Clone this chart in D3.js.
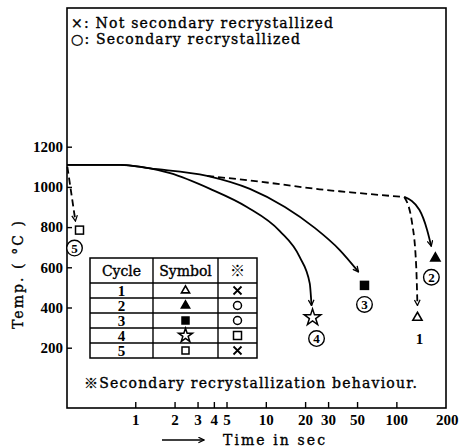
<!DOCTYPE html>
<html><head><meta charset="utf-8">
<script src="https://cdn.jsdelivr.net/npm/d3@7"></script>
<style>
html,body{margin:0;padding:0;background:#fff;}
svg{display:block;}
text{font-family:"DejaVu Serif","Liberation Serif",serif;fill:#000;}
.t{stroke:#000;stroke-width:0.35px;}
</style></head>
<body>
<svg id="c" width="459" height="447"></svg>
<script>
// ---- data ----
const cycles = [1, 2, 3, 4, 5];
const markerTimes = [145, 199, 57, 22.8, 0.374];     // sec
const markerTemps = [350, 645, 510, 350, 785];        // °C
const markerSymbols = ["triOpen", "triFill", "sqFill", "star", "sqOpen"];
const behaviour = ["×", "○", "○", "□", "×"];
const circledLabels = ["1", "2", "3", "4", "5"];
const yTicks = [200, 400, 600, 800, 1000, 1200];
const xTicks = [1, 2, 3, 4, 5, 10, 20, 30, 50, 100, 200];

// cooling paths [time (s), temp (°C)]
const pathCycle4 = [[0.3,1110],[0.77,1110],[1.3,1092],[1.85,1068],[3.74,990],[7.16,900],[12.8,780],[18.2,650],[21.7,520],[22.4,410]];
const pathCycle3 = [[0.3,1110],[0.77,1110],[1.3,1092],[3.55,1055],[7.55,990],[14,900],[23.7,796],[36.7,687],[51.3,577]];
const pathHold12 = [[3.55,1055],[10.7,1020],[25.8,988],[41.5,975],[74,960],[115,950]];
const pathCycle2 = [[115,950],[150,886],[172,786],[185,705]];
const pathCycle1 = [[115,950],[132,820],[142,600],[145,410]];
const pathCycle5 = [[0.302,1100],[0.348,830]];

const svg = d3.select("#c");
const x = d3.scaleLog().domain([0.3, 240]).range([67, 446]);
const y = d3.scaleLinear().domain([-100, 1890]).range([408, 8]);

// arrow marker
const defs = svg.append("defs");
defs.append("marker").attr("id","arr").attr("viewBox","0 0 10 10").attr("refX",9).attr("refY",5)
  .attr("markerWidth",7).attr("markerHeight",7).attr("orient","auto-start-reverse")
  .attr("markerUnits","userSpaceOnUse")
  .append("path").attr("d","M1,1 L9,5 L1,9").attr("fill","none").attr("stroke","#000").attr("stroke-width",1.8);

// frame
svg.append("rect").attr("x",x.range()[0]).attr("y",y.range()[1]).attr("width",x.range()[1]-x.range()[0])
  .attr("height",y.range()[0]-y.range()[1]).attr("fill","none").attr("stroke","#000").attr("stroke-width",1.6);

// axes
const ya = svg.append("g").attr("transform",`translate(${x.range()[0]},0)`)
  .call(d3.axisLeft(y).tickValues(yTicks).tickSize(-5).tickPadding(4).tickFormat(d3.format("d")));
ya.select(".domain").remove();
ya.selectAll("line").attr("stroke-width",1.4);
ya.selectAll("text").style("font-family","Liberation Serif").style("font-weight","bold").style("font-size","15px");

const xa = svg.append("g").attr("transform",`translate(0,${y.range()[0]})`)
  .call(d3.axisBottom(x).tickValues(xTicks).tickSize(-6).tickPadding(6).tickFormat(d3.format("d")));
xa.select(".domain").remove();
xa.selectAll("line").attr("stroke-width",1.4);
xa.selectAll(".tick").filter(d=>d===200).select("line").remove();
xa.selectAll(".tick").filter(d=>d===200).select("text").attr("dx",11);
xa.selectAll("text").style("font-family","Liberation Serif").style("font-weight","bold").style("font-size","15px");

// curves
const line = d3.line().x(d=>x(d[0])).y(d=>y(d[1])).curve(d3.curveMonotoneX);
function drawPath(data, dashed, arrow){
  const p = svg.append("path").attr("d", line(data)).attr("fill","none").attr("stroke","#000").attr("stroke-width",1.8);
  if (dashed) p.attr("stroke-dasharray","7,4");
  if (arrow) p.attr("marker-end","url(#arr)");
}
drawPath(pathCycle4,false,true);
drawPath(pathCycle3,false,true);
drawPath(pathHold12,true,false);
drawPath(pathCycle2,false,true);
drawPath(pathCycle1,true,true);
drawPath(pathCycle5,true,true);

// symbols
function sym(g, type, cx, cy, s){
  const gg = g.append("g").attr("transform",`translate(${cx},${cy})`);
  if (type==="triOpen"||type==="triFill"){
    gg.append("path").attr("d",d3.symbol(d3.symbolTriangle, s*s*0.45)()).attr("fill", type==="triFill"?"#000":"#fff").attr("stroke","#000").attr("stroke-width",1.6);
  } else if (type==="sqOpen"||type==="sqFill"){
    gg.append("rect").attr("x",-s/2).attr("y",-s/2).attr("width",s).attr("height",s).attr("fill", type==="sqFill"?"#000":"#fff").attr("stroke","#000").attr("stroke-width",1.5);
  } else if (type==="star"){
    gg.append("path").attr("d",d3.symbol(d3.symbolStar, s*s*0.5)()).attr("fill","#fff").attr("stroke","#000").attr("stroke-width",1.5);
  } else if (type==="circle"){
    gg.append("circle").attr("r",s/2).attr("fill","#fff").attr("stroke","#000").attr("stroke-width",1.5);
  } else if (type==="cross"){
    const h=s/2;
    gg.append("path").attr("d",`M${-h},${-h}L${h},${h}M${-h},${h}L${h},${-h}`).attr("stroke","#000").attr("stroke-width",1.8);
  }
}
const symSize = {triOpen:9, triFill:9, sqFill:8, star:13, sqOpen:8};
cycles.forEach((c,i)=>{
  sym(svg, markerSymbols[i], x(markerTimes[i]), y(markerTemps[i]), symSize[markerSymbols[i]]);
});

// cycle labels near markers (offsets in px)
const labelOffsets = [[2,21],[-4,19],[0,19],[4,21],[-5,18]];
function circled(cx, cy, t){
  svg.append("circle").attr("cx",cx).attr("cy",cy).attr("r",7.8).attr("fill","#fff").attr("stroke","#000").attr("stroke-width",1.4);
  svg.append("text").attr("x",cx).attr("y",cy).attr("dy","0.36em").attr("text-anchor","middle")
    .style("font-family","Liberation Serif").style("font-weight","bold").style("font-size","13px").text(t);
}
cycles.forEach((c,i)=>{
  const cx = x(markerTimes[i])+labelOffsets[i][0], cy = y(markerTemps[i])+labelOffsets[i][1];
  if (i===0){
    svg.append("text").attr("x",cx).attr("y",cy).attr("dy","0.36em").attr("text-anchor","middle")
      .style("font-family","Liberation Serif").style("font-weight","bold").style("font-size","15px").text(circledLabels[i]);
  } else circled(cx, cy, circledLabels[i]);
});

// top legend
svg.append("text").attr("class","t").attr("x",71).attr("y",28).style("font-size","14px")
  .attr("textLength",262).attr("lengthAdjust","spacing")
  .text("×: Not secondary recrystallized");
svg.append("text").attr("class","t").attr("x",71).attr("y",44).style("font-size","14px")
  .attr("textLength",229).attr("lengthAdjust","spacing")
  .text("○: Secondary recrystallized");

// table
const tX = [90,153,218,257], tTop = 258, tHead = 283, rowH = 15;
const tb = svg.append("g");
const tBottom = tHead + rowH*cycles.length;
tb.append("rect").attr("x",tX[0]).attr("y",tTop).attr("width",tX[3]-tX[0]).attr("height",tBottom-tTop)
  .attr("fill","#fff").attr("stroke","#000").attr("stroke-width",1.5);
[tX[1],tX[2]].forEach(v=>tb.append("line").attr("x1",v).attr("x2",v).attr("y1",tTop).attr("y2",tBottom).attr("stroke","#000").attr("stroke-width",1.4));
cycles.forEach((c,i)=>{
  const yy = tHead + rowH*i;
  tb.append("line").attr("x1",tX[0]).attr("x2",tX[3]).attr("y1",yy).attr("y2",yy).attr("stroke","#000").attr("stroke-width",1.3);
});
const headers = ["Cycle","Symbol","※"];
headers.forEach((h,j)=>{
  tb.append("text").attr("class", j===2?null:"t").attr("x",(tX[j]+tX[j+1])/2).attr("y",(tTop+tHead)/2).attr("dy","0.36em").attr("text-anchor","middle")
    .style("font-size", j===2?"15px":"14px").style("font-weight", j===2?"bold":"normal")
    .style("font-family", j===2?"Noto Sans CJK JP":"DejaVu Serif").text(h);
});
const tableSym = {triOpen:8, triFill:8, sqFill:7, star:11, sqOpen:7};
const behType = {"×":"cross","○":"circle","□":"sqOpen"};
cycles.forEach((c,i)=>{
  const cy = tHead + rowH*i + rowH/2;
  tb.append("text").attr("x",(tX[0]+tX[1])/2).attr("y",cy).attr("dy","0.38em").attr("text-anchor","middle")
    .style("font-family","Liberation Serif").style("font-weight","bold").style("font-size","15px").text(c);
  sym(tb, markerSymbols[i], (tX[1]+tX[2])/2, cy, tableSym[markerSymbols[i]]);
  sym(tb, behType[behaviour[i]], (tX[2]+tX[3])/2, cy, 8);
});

// footnote
svg.append("text").attr("class","t").attr("x",84).attr("y",388).style("font-size","14px")
  .attr("textLength",333).attr("lengthAdjust","spacing")
  .html('<tspan style="font-family:Noto Sans CJK JP;font-weight:bold">※</tspan>Secondary recrystallization behaviour.');

// axis titles
svg.append("text").attr("class","t").attr("transform","translate(18,275) rotate(-90)").attr("text-anchor","middle").attr("dy","0.36em")
  .style("font-size","14px").attr("textLength",108).attr("lengthAdjust","spacing").text("Temp. ( °C )");
svg.append("line").attr("x1",162).attr("x2",204).attr("y1",440).attr("y2",440).attr("stroke","#000").attr("stroke-width",1.6).attr("marker-end","url(#arr)");
svg.append("text").attr("class","t").attr("x",223).attr("y",445).style("font-size","14px")
  .attr("textLength",102).attr("lengthAdjust","spacing").text("Time in sec");
</script>
</body></html>
